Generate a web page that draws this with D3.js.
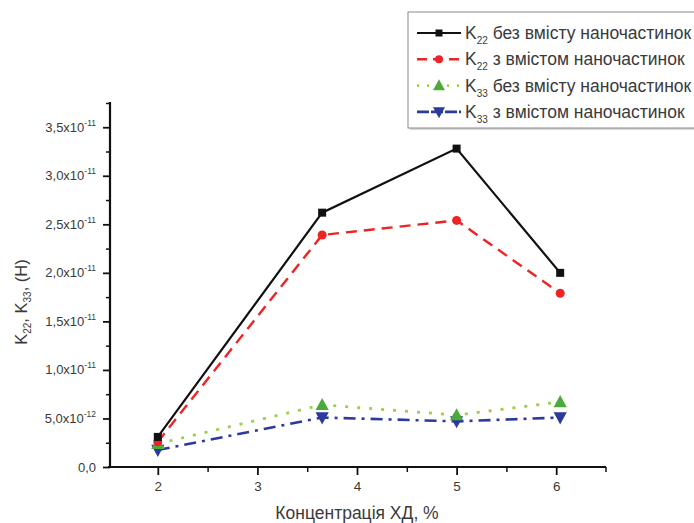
<!DOCTYPE html>
<html><head><meta charset="utf-8">
<script src="https://cdn.jsdelivr.net/npm/d3@7"></script>
<style>
body{margin:0;background:#fff;}
svg{display:block;font-family:"Liberation Sans",Arial,sans-serif;}
</style></head>
<body>
<svg id="c" width="694" height="523"></svg>
<script>
const xValues = [2, 3.65, 5, 6.04];
const k22Without = [3.1e-12, 2.62e-11, 3.28e-11, 2.0e-11];
const k22With = [2.6e-12, 2.39e-11, 2.54e-11, 1.79e-11];
const k33Without = [2.4e-12, 6.4e-12, 5.35e-12, 6.7e-12];
const k33With = [1.75e-12, 5.1e-12, 4.7e-12, 5.1e-12];
const xTicks = [2, 3, 4, 5, 6];
const yTicks = [0, 5e-12, 1e-11, 1.5e-11, 2e-11, 2.5e-11, 3e-11, 3.5e-11];
const legendLabels = [
  ["K", "22", " без вмісту наночастинок"],
  ["K", "22", " з вмістом наночастинок"],
  ["K", "33", " без вмісту наночастинок"],
  ["K", "33", " з вмістом наночастинок"]
];
const xTitle = "Концентрація ХД, %";

const svg = d3.select("#c");
const x = d3.scaleLinear().domain([1.5, 6.5]).range([108, 606]);
const y = d3.scaleLinear().domain([0, 3.76e-11]).range([467, 102]);
const textCol = "#3a3a3a";

const series = [
  {vals: k22Without, color: "#111", lineColor: "#111", dash: null, width: 2.2, marker: "square"},
  {vals: k22With, color: "#ee2424", lineColor: "#ee2424", dash: "11,7", width: 2.4, marker: "circle"},
  {vals: k33Without, color: "#4caa3a", lineColor: "#9ccf4a", dash: "3,9", width: 2.8, marker: "up"},
  {vals: k33With, color: "#2b3a9c", lineColor: "#2b3a9c", dash: "12,6,3,6", width: 2.6, marker: "down"}
];

// axes
const xAxis = d3.axisBottom(x).tickValues(xTicks).tickSize(8).tickFormat(d3.format("d"));
const gx = svg.append("g").attr("transform", "translate(0,467)").call(xAxis);
gx.select(".domain").attr("stroke", "#111").attr("stroke-width", 2.2).attr("d", "M108,0H606");
gx.selectAll(".tick line").attr("stroke", "#111").attr("stroke-width", 1.8);
gx.selectAll(".tick text").attr("font-size", 13.5).attr("fill", textCol).attr("dy", "0.95em");
const gxm = svg.append("g").attr("transform", "translate(0,467)")
  .call(d3.axisBottom(x).tickValues([2.5, 3.5, 4.5, 5.5]).tickSize(5).tickFormat(""));
gxm.select(".domain").remove();
gxm.selectAll(".tick line").attr("stroke", "#111").attr("stroke-width", 1.5);
svg.append("line").attr("x1", 606).attr("x2", 606).attr("y1", 467).attr("y2", 472).attr("stroke", "#111").attr("stroke-width", 1.5);

const yAxis = d3.axisLeft(y).tickValues(yTicks).tickSize(7).tickFormat("");
const gy = svg.append("g").attr("transform", "translate(110,0)").call(yAxis);
gy.select(".domain").attr("stroke", "#111").attr("stroke-width", 2.2).attr("d", "M0,102V467");
gy.selectAll(".tick line").attr("stroke", "#111").attr("stroke-width", 1.8);
const gym = svg.append("g").attr("transform", "translate(110,0)")
  .call(d3.axisLeft(y).tickValues(d3.range(0, 8).map(i => (i + 0.5) * 5e-12)).tickSize(4).tickFormat(""));
gym.select(".domain").remove();
gym.selectAll(".tick line").attr("stroke", "#111").attr("stroke-width", 1.5);

// y tick labels
yTicks.forEach(v => {
  const t = svg.append("text").attr("x", 96).attr("y", y(v) + 4.5).attr("text-anchor", "end")
    .attr("font-size", 13).attr("fill", textCol);
  if (v === 0) { t.text("0,0"); return; }
  const e = Math.floor(Math.log10(v) + 1e-9);
  const m = (v / Math.pow(10, e)).toFixed(1).replace(".", ",");
  t.append("tspan").text(m + "x10");
  t.append("tspan").attr("font-size", 8.5).attr("dy", -6).text("-" + Math.abs(e));
});

// axis titles
svg.append("text").attr("x", 357).attr("y", 519).attr("text-anchor", "middle")
  .attr("font-size", 17.5).attr("fill", textCol).text(xTitle);
const yt = svg.append("text").attr("transform", "translate(27,302) rotate(-90)")
  .attr("text-anchor", "middle").attr("font-size", 16.5).attr("fill", textCol);
yt.append("tspan").text("K");
yt.append("tspan").attr("font-size", 10).attr("dy", 4).text("22");
yt.append("tspan").attr("dy", -4).text(", K");
yt.append("tspan").attr("font-size", 10).attr("dy", 4).text("33");
yt.append("tspan").attr("dy", -4).text(", (Н)");

// marker drawer
function drawMarker(g, type, cx, cy, color, s) {
  if (type === "square") {
    g.append("rect").attr("x", cx - s/2).attr("y", cy - s/2).attr("width", s).attr("height", s).attr("fill", color);
  } else if (type === "circle") {
    g.append("circle").attr("cx", cx).attr("cy", cy).attr("r", s/2 + 0.5).attr("fill", color);
  } else if (type === "up") {
    const h = s * 1.05;
    g.append("path").attr("d", `M${cx},${cy - h*0.6}L${cx + s*0.6},${cy + h*0.45}L${cx - s*0.6},${cy + h*0.45}Z`).attr("fill", color);
  } else {
    const h = s * 1.05;
    g.append("path").attr("d", `M${cx},${cy + h*0.6}L${cx + s*0.6},${cy - h*0.45}L${cx - s*0.6},${cy - h*0.45}Z`).attr("fill", color);
  }
}

const line = d3.line().x((d, i) => x(xValues[i])).y(d => y(d));
// draw in order: blue, green, red, black (black on top)
[3, 2, 1, 0].forEach(si => {
  const s = series[si];
  const g = svg.append("g");
  g.append("path").datum(s.vals).attr("d", line).attr("fill", "none")
    .attr("stroke", s.lineColor).attr("stroke-width", s.width)
    .attr("stroke-dasharray", s.dash);
  s.vals.forEach((v, i) => drawMarker(g, s.marker, x(xValues[i]), y(v), s.color, si >= 2 ? 11 : 8));
});

// legend
const lg = svg.append("g");
lg.append("rect").attr("x", 410).attr("y", 14).attr("width", 300).attr("height", 116).attr("fill", "#d8d8d8");
lg.append("rect").attr("x", 408).attr("y", 12).attr("width", 300).attr("height", 116)
  .attr("fill", "#fff").attr("stroke", "#8a8a8a").attr("stroke-width", 1);
legendLabels.forEach((lab, i) => {
  const s = series[i];
  const cy = 33 + i * 26.3;
  lg.append("line").attr("x1", 417).attr("x2", 461).attr("y1", cy).attr("y2", cy)
    .attr("stroke", s.lineColor).attr("stroke-width", s.width)
    .attr("stroke-dasharray", i === 2 ? "2,8" : (i === 1 ? "10,6" : (i === 3 ? "12,2" : null)));
  drawMarker(lg, s.marker, 439, cy, s.color, i >= 2 ? 10 : 7);
  const t = lg.append("text").attr("x", 465).attr("y", cy + 6).attr("font-size", 17.5).attr("fill", textCol);
  t.append("tspan").text(lab[0]);
  t.append("tspan").attr("font-size", 10).attr("dy", 5).text(lab[1]);
  t.append("tspan").attr("dy", -5).text(lab[2]);
});
</script>
</body></html>
